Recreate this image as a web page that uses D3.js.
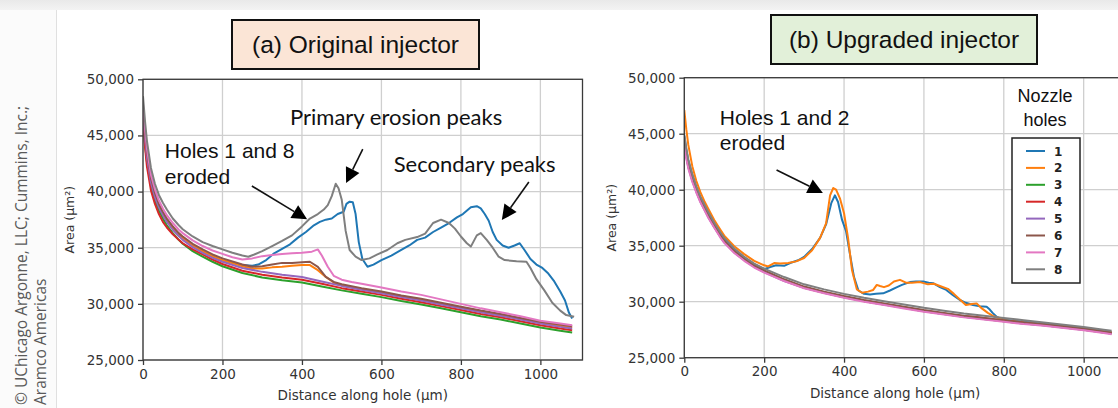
<!DOCTYPE html>
<html><head><meta charset="utf-8">
<script src="https://cdn.jsdelivr.net/npm/d3@7"></script>
<style>html,body{margin:0;padding:0;background:#fff;overflow:hidden} svg{display:block}</style>
</head><body>
<svg id="c" width="1118" height="408"></svg>
<script>
// ---------- shared labels / ticks ----------
const holeLabels = ["1","2","3","4","5","6","7","8"];
const yTicks = [25000,30000,35000,40000,45000,50000];
const xTicks = [0,200,400,600,800,1000];
const xDomain = [0,1106];
const yDomain = [25000,50000];
const titleA = "(a) Original injector";
const titleB = "(b) Upgraded injector";
const xLabel = "Distance along hole (µm)";
const yLabel = "Area (µm²)";
const legendTitle = ["Nozzle","holes"];
const credit = ["© UChicago Argonne, LLC; Cummins, Inc.;","Aramco Americas"];

// ---------- panel (a): original injector ----------
const a1 = [[0,47000],[5,44900],[10,43100],[20,40900],[30,39600],[40,38700],[50,38000],[60,37400],[75,36700],[90,36100],[100,35800],[125,35150],[150,34650],[175,34200],[200,33850],[250,33450],[275,33400],[290,33500],[310,33900],[330,34500],[350,34900],[370,35300],[390,35900],[410,36400],[430,37000],[445,37300],[460,37500],[475,37600],[490,38000],[505,38200],[512,38900],[520,39100],[528,39050],[535,38000],[543,35500],[552,34000],[565,33300],[580,33500],[600,33900],[625,34300],[650,34800],[670,35200],[690,35700],[710,35900],[730,36400],[750,36800],[770,37200],[790,37700],[805,38000],[825,38600],[840,38700],[850,38500],[860,38000],[870,37400],[880,36400],[890,35700],[905,35200],[920,35000],[935,35200],[948,35400],[960,34800],[975,34000],[990,33500],[1005,33200],[1020,32700],[1035,32000],[1050,31100],[1062,30300],[1072,29200],[1080,28700]];
const a2 = [[0,47200],[5,45000],[10,43200],[20,41000],[30,39700],[40,38750],[50,38050],[60,37450],[75,36750],[90,36200],[100,35850],[125,35200],[150,34700],[175,34250],[200,33900],[250,33350],[275,33150],[300,33150],[325,33250],[350,33300],[375,33400],[400,33450],[420,33450],[440,33000],[460,32400],[480,31900],[500,31650],[550,31300],[600,31000],[650,30700],[700,30350],[750,30000],[800,29700],[850,29350],[900,29000],[950,28700],[1000,28350],[1050,28050],[1080,27900]];
const a3 = [[0,46200],[5,44200],[10,42600],[20,40500],[30,39200],[40,38300],[50,37600],[60,37000],[75,36300],[90,35700],[100,35350],[125,34700],[150,34200],[175,33750],[200,33350],[250,32750],[300,32350],[350,32100],[400,31900],[450,31550],[500,31200],[550,30900],[600,30600],[650,30250],[700,29950],[750,29600],[800,29250],[850,28900],[900,28600],[950,28250],[1000,27900],[1050,27600],[1080,27450]];
const a4 = [[0,46600],[5,44000],[10,42200],[20,40100],[30,38900],[40,38000],[50,37300],[60,36800],[75,36200],[90,35700],[100,35400],[125,34850],[150,34400],[175,33950],[200,33550],[250,32950],[300,32600],[350,32350],[400,32150],[450,31800],[500,31400],[550,31100],[600,30800],[650,30450],[700,30150],[750,29800],[800,29450],[850,29100],[900,28800],[950,28450],[1000,28100],[1050,27800],[1080,27650]];
const a5 = [[0,47000],[5,44800],[10,43000],[20,40800],[30,39500],[40,38600],[50,37900],[60,37300],[75,36600],[90,36050],[100,35700],[125,35050],[150,34550],[175,34100],[200,33750],[250,33200],[300,32850],[350,32600],[400,32400],[450,32000],[500,31600],[550,31250],[600,30950],[650,30600],[700,30300],[750,29950],[800,29600],[850,29250],[900,28950],[950,28600],[1000,28250],[1050,27950],[1080,27800]];
const a6 = [[0,47500],[5,45300],[10,43500],[20,41200],[30,39900],[40,38900],[50,38200],[60,37600],[75,36900],[90,36300],[100,36000],[125,35350],[150,34850],[175,34400],[200,34050],[250,33500],[275,33300],[300,33350],[325,33500],[350,33650],[375,33650],[400,33700],[420,33750],[440,33300],[460,32400],[480,31950],[500,31750],[550,31400],[600,31100],[650,30750],[700,30450],[750,30100],[800,29750],[850,29400],[900,29100],[950,28750],[1000,28400],[1050,28150],[1080,28000]];
const a7 = [[0,47800],[5,45600],[10,43800],[20,41500],[30,40200],[40,39200],[50,38500],[60,37900],[75,37200],[90,36600],[100,36300],[125,35650],[150,35150],[175,34750],[200,34450],[225,34150],[250,33950],[275,34050],[300,34250],[325,34350],[350,34450],[375,34500],[400,34550],[425,34650],[440,34850],[450,34300],[465,33300],[480,32500],[500,32150],[525,31950],[550,31800],[600,31450],[650,31100],[700,30800],[750,30400],[800,30000],[850,29600],[900,29250],[950,28900],[1000,28500],[1050,28250],[1080,28100]];
const a8 = [[0,48500],[5,46300],[10,44500],[20,42100],[30,40700],[40,39700],[50,39000],[60,38400],[75,37600],[90,37000],[100,36650],[125,36000],[150,35500],[175,35150],[200,34850],[225,34550],[250,34300],[265,34200],[280,34400],[300,34700],[325,35150],[350,35600],[375,36100],[400,36900],[420,37600],[440,38000],[455,38400],[465,38800],[475,39600],[485,40700],[492,40300],[500,39300],[510,36500],[520,34800],[535,34200],[550,33900],[570,34050],[590,34400],[615,34800],[640,35400],[660,35700],[690,35950],[710,36250],[730,37200],[750,37500],[770,37200],[785,36700],[800,36000],[815,35400],[825,35100],[840,36100],[850,36300],[865,35700],[880,35000],[895,34200],[910,33900],[940,33800],[965,33750],[975,33200],[990,32200],[1010,31200],[1030,30100],[1050,29400],[1065,29000],[1085,28850]];

// ---------- panel (b): upgraded injector ----------
const b1 = [[0,44800],[5,43600],[10,42600],[20,41300],[30,40200],[40,39300],[50,38600],[60,37900],[75,36950],[90,36100],[100,35600],[125,34650],[150,33950],[175,33350],[200,32900],[215,33100],[230,33250],[250,33200],[265,33450],[285,33700],[300,34000],[320,34700],[340,35700],[355,36900],[368,38800],[377,39500],[385,38900],[395,37300],[405,36300],[415,34200],[425,32200],[436,31000],[450,30700],[465,30650],[480,30700],[498,30750],[515,31000],[530,31250],[545,31500],[565,31750],[580,31800],[598,31800],[612,31700],[623,31650],[640,31300],[656,31050],[672,30600],[690,30150],[705,29900],[723,29700],[740,29600],[757,29550],[765,29300],[772,29000],[782,28650],[800,28400],[850,28200],[900,28000],[950,27800],[1000,27600],[1050,27350],[1070,27250]];
const b2 = [[0,47100],[5,45400],[10,44000],[20,42100],[30,40800],[40,39800],[50,39000],[60,38300],[75,37300],[90,36450],[100,35900],[125,34950],[150,34250],[175,33650],[200,33250],[210,33150],[225,33450],[240,33400],[260,33450],[280,33600],[300,33900],[320,34600],[340,35700],[355,37000],[365,39500],[373,40150],[380,40000],[390,39200],[400,37900],[410,35700],[420,32800],[432,31100],[445,30800],[460,30900],[473,31050],[482,31500],[490,31400],[500,31300],[512,31450],[525,31800],[540,31950],[555,31700],[570,31700],[590,31750],[610,31550],[625,31600],[640,31400],[660,31150],[675,30700],[690,30200],[705,29700],[720,29800],[732,29850],[745,29400],[760,29000],[775,28700],[790,28500],[800,28350],[850,28150],[900,27950],[950,27800],[1000,27600],[1050,27350],[1070,27250]];
const b3 = [[0,44300],[5,43100],[10,42100],[20,40900],[30,39900],[40,39000],[50,38300],[60,37600],[75,36700],[90,35850],[100,35350],[125,34450],[150,33750],[175,33150],[200,32700],[250,31900],[300,31250],[350,30800],[400,30400],[450,30050],[500,29750],[550,29450],[600,29150],[650,28900],[700,28650],[750,28450],[800,28250],[850,28050],[900,27900],[950,27700],[1000,27500],[1050,27250],[1070,27150]];
const b4 = [[0,44400],[5,43200],[10,42150],[20,40950],[30,39950],[40,39050],[50,38350],[60,37650],[75,36750],[90,35900],[100,35400],[125,34500],[150,33800],[175,33200],[200,32750],[250,31950],[300,31300],[350,30850],[400,30450],[450,30100],[500,29800],[550,29500],[600,29200],[650,28950],[700,28700],[725,28650],[750,28550],[800,28300],[850,28100],[900,27950],[950,27750],[1000,27550],[1050,27300],[1070,27200]];
const b5 = [[0,44000],[5,42900],[10,42000],[20,40800],[30,39800],[40,38950],[50,38250],[60,37550],[75,36650],[90,35800],[100,35300],[125,34400],[150,33700],[175,33100],[200,32650],[250,31850],[300,31250],[350,30800],[400,30400],[450,30050],[500,29750],[550,29450],[600,29150],[650,28900],[700,28650],[750,28450],[800,28250],[850,28050],[900,27900],[950,27700],[1000,27500],[1050,27250],[1070,27150]];
const b6 = [[0,44500],[5,43300],[10,42250],[20,41000],[30,40000],[40,39100],[50,38400],[60,37700],[75,36800],[90,35950],[100,35450],[125,34550],[150,33850],[175,33250],[200,32800],[250,32000],[300,31350],[350,30900],[400,30500],[450,30150],[500,29850],[550,29550],[600,29250],[650,29000],[700,28750],[750,28550],[800,28350],[850,28150],[900,28000],[950,27800],[1000,27600],[1050,27350],[1070,27250]];
const b7 = [[0,43900],[5,42800],[10,41900],[20,40700],[30,39750],[40,38900],[50,38200],[60,37500],[75,36600],[90,35750],[100,35250],[125,34350],[150,33650],[175,33050],[200,32600],[250,31850],[300,31200],[350,30750],[400,30350],[450,30000],[500,29700],[550,29400],[600,29100],[650,28850],[700,28600],[750,28400],[800,28200],[850,28000],[900,27850],[950,27650],[1000,27450],[1050,27200],[1070,27100]];
const b8 = [[0,44900],[5,43700],[10,42700],[20,41400],[30,40300],[40,39400],[50,38700],[60,38000],[75,37050],[90,36200],[100,35700],[125,34750],[150,34000],[175,33400],[200,32950],[250,32200],[300,31550],[350,31100],[400,30700],[450,30350],[500,30050],[550,29750],[600,29450],[650,29200],[700,28950],[750,28750],[800,28550],[850,28350],[900,28150],[950,27950],[1000,27750],[1050,27500],[1070,27400]];

const seriesA = [a1,a2,a3,a4,a5,a6,a7,a8];
const seriesB = [b1,b2,b3,b4,b5,b6,b7,b8];

// annotations (data coordinates)
const notesA = [
  {lines:["Holes 1 and 8","eroded"], x:55, y:42960, font:"arial"},
  {lines:["Primary erosion peaks"], x:370, y:45930, font:"calibri"},
  {lines:["Secondary peaks"], x:631, y:41770, font:"calibri"}
];
const arrowsA = [
  {from:[274,40500], to:[413,37530]},
  {from:[553,43790], to:[511,40760]},
  {from:[971,40850], to:[903,37470]}
];
const notesB = [{lines:["Holes 1 and 2","eroded"], x:89, y:45780, font:"arial"}];
const arrowsB = [{from:[231,41760], to:[347,39710]}];

// ---------- styling ----------
const colors = ["#1f77b4","#ff7f0e","#2ca02c","#d62728","#9467bd","#8c564b","#e377c2","#7f7f7f"];
const svg = d3.select("#c");

// page background / card
svg.append("rect").attr("x",0).attr("y",0).attr("width",1118).attr("height",408).attr("fill","#fbfbfb");
const g0 = svg.append("defs").append("linearGradient").attr("id","topband").attr("x1",0).attr("y1",0).attr("x2",0).attr("y2",1);
g0.append("stop").attr("offset","0%").attr("stop-color","#e9e9e9");
g0.append("stop").attr("offset","100%").attr("stop-color","#f3f3f3");
svg.append("rect").attr("x",0).attr("y",0).attr("width",1118).attr("height",10).attr("fill","url(#topband)");
svg.append("rect").attr("x",57).attr("y",10).attr("width",1061).attr("height",398).attr("fill","#ffffff");
svg.append("line").attr("x1",56.5).attr("x2",56.5).attr("y1",10).attr("y2",408).attr("stroke","#e0e0e0");

// credit text
credit.forEach((t,i)=>{
  svg.append("text").attr("transform",`translate(${27+i*19},405) rotate(-90)`)
    .attr("font-family","'Open Sans', sans-serif").attr("font-size",15.5).attr("fill","#5a5a5a").text(t);
});

function panel(opts){
  const {series, left, right, top, bottom, ylabX, title, tbox, tfill, notes, arrows, legend, id} = opts;
  const x = d3.scaleLinear().domain(xDomain).range([left,right]);
  const y = d3.scaleLinear().domain(yDomain).range([bottom,top]);
  const g = svg.append("g");
  const clipW = Math.min(right,1118)-left;
  svg.append("clipPath").attr("id","clip"+id).append("rect").attr("x",left).attr("y",top).attr("width",clipW).attr("height",bottom-top);

  // grid
  g.append("g").selectAll("line").data(xTicks).join("line")
    .attr("x1",d=>x(d)).attr("x2",d=>x(d)).attr("y1",top).attr("y2",bottom)
    .attr("stroke","#cfcfcf").attr("stroke-width",1.3);
  g.append("g").selectAll("line").data(yTicks).join("line")
    .attr("x1",left).attr("x2",right).attr("y1",d=>y(d)).attr("y2",d=>y(d))
    .attr("stroke","#cfcfcf").attr("stroke-width",1.3);

  // lines
  const line = d3.line().x(d=>x(d[0])).y(d=>y(d[1]));
  const lg = g.append("g").attr("clip-path",`url(#clip${id})`);
  series.forEach((s,i)=>{
    lg.append("path").attr("d",line(s)).attr("fill","none").attr("stroke",colors[i])
      .attr("stroke-width",2).attr("stroke-linejoin","round");
  });

  // frame
  g.append("rect").attr("x",left).attr("y",top).attr("width",right-left).attr("height",bottom-top)
    .attr("fill","none").attr("stroke","#3a3a3a").attr("stroke-width",1.3);

  // axes
  const ya = d3.axisLeft(y).tickValues(yTicks).tickFormat(d3.format(",")).tickSize(5).tickSizeOuter(0).tickPadding(4);
  const yg = g.append("g").attr("transform",`translate(${left},0)`).call(ya);
  const xa = d3.axisBottom(x).tickValues(xTicks).tickFormat(d3.format("d")).tickSize(5).tickSizeOuter(0).tickPadding(4);
  const xg = g.append("g").attr("transform",`translate(0,${bottom})`).call(xa);
  [yg,xg].forEach(a=>{
    a.select(".domain").remove();
    a.selectAll(".tick line").attr("stroke","#3a3a3a").attr("stroke-width",1.3);
    a.selectAll(".tick text").attr("font-family","'DejaVu Sans', sans-serif").attr("font-size",13.5).attr("fill","#333");
  });
  g.append("text").attr("x",(left+Math.min(right,1106))/2).attr("y",bottom+40)
    .attr("text-anchor","middle").attr("font-family","'DejaVu Sans', sans-serif").attr("font-size",13.5).attr("fill","#333").text(xLabel);
  g.append("text").attr("transform",`translate(${ylabX},${(top+bottom)/2}) rotate(-90)`)
    .attr("text-anchor","middle").attr("font-family","'DejaVu Sans', sans-serif").attr("font-size",12.5).attr("fill","#333").text(yLabel);

  // title box
  g.append("rect").attr("x",tbox[0]).attr("y",tbox[1]).attr("width",tbox[2]).attr("height",tbox[3])
    .attr("fill",tfill).attr("stroke","#111").attr("stroke-width",2);
  g.append("text").attr("x",tbox[0]+tbox[2]/2).attr("y",tbox[1]+tbox[3]/2+8.5).attr("text-anchor","middle")
    .attr("font-family","'Liberation Sans', Arial, sans-serif").attr("font-size",24.5).attr("fill","#111").text(title);

  // notes
  notes.forEach(n=>{
    n.lines.forEach((t,i)=>{
      g.append("text").attr("x",x(n.x)).attr("y",y(n.y)+i*25.5)
        .attr("font-family", n.font==="arial" ? "'Liberation Sans', Arial, sans-serif" : "Lato, 'Open Sans', sans-serif")
        .attr("font-size", n.font==="arial" ? 21 : 22).attr("fill","#111").text(t);
    });
  });
  arrows.forEach(a=>{
    const x1=x(a.from[0]), y1=y(a.from[1]), x2=x(a.to[0]), y2=y(a.to[1]);
    const L=Math.hypot(x2-x1,y2-y1), ux=(x2-x1)/L, uy=(y2-y1)/L;
    const hl=15, hw=7.5;
    const bx=x2-ux*hl, by=y2-uy*hl;
    g.append("line").attr("x1",x1).attr("y1",y1).attr("x2",bx).attr("y2",by).attr("stroke","#111").attr("stroke-width",1.6);
    g.append("path").attr("d",`M${x2},${y2}L${bx-uy*hw},${by+ux*hw}L${bx+uy*hw},${by-ux*hw}Z`).attr("fill","#000");
  });

  if(legend){
    const lx=1012, ly=138, lw=68, lh=145;
    legendTitle.forEach((t,i)=>{
      g.append("text").attr("x",lx+lw/2-1).attr("y",102+i*24).attr("text-anchor","middle")
        .attr("font-family","'Liberation Sans', Arial, sans-serif").attr("font-size",18).attr("fill","#111").text(t);
    });
    g.append("rect").attr("x",lx).attr("y",ly).attr("width",lw).attr("height",lh).attr("fill","#fff").attr("stroke","#222").attr("stroke-width",1.5);
    holeLabels.forEach((h,i)=>{
      const yy = 151 + i*16.9;
      g.append("line").attr("x1",1026).attr("x2",1045).attr("y1",yy).attr("y2",yy).attr("stroke",colors[i]).attr("stroke-width",2);
      g.append("text").attr("x",1054).attr("y",yy+4.5).attr("font-family","'DejaVu Sans', sans-serif").attr("font-weight","bold")
        .attr("font-size",12).attr("fill","#222").text(h);
    });
  }
}

panel({id:"A", series:seriesA, left:143, right:582.5, top:79.3, bottom:360, ylabX:74,
  title:titleA, tbox:[232,20,247,49], tfill:"#fbe5d6", notes:notesA, arrows:arrowsA, legend:false});
panel({id:"B", series:seriesB, left:684.3, right:1126, top:77.7, bottom:357.7, ylabX:616,
  title:titleB, tbox:[771,15,266,49], tfill:"#e2f0d9", notes:notesB, arrows:arrowsB, legend:true});
</script>
</body></html>
